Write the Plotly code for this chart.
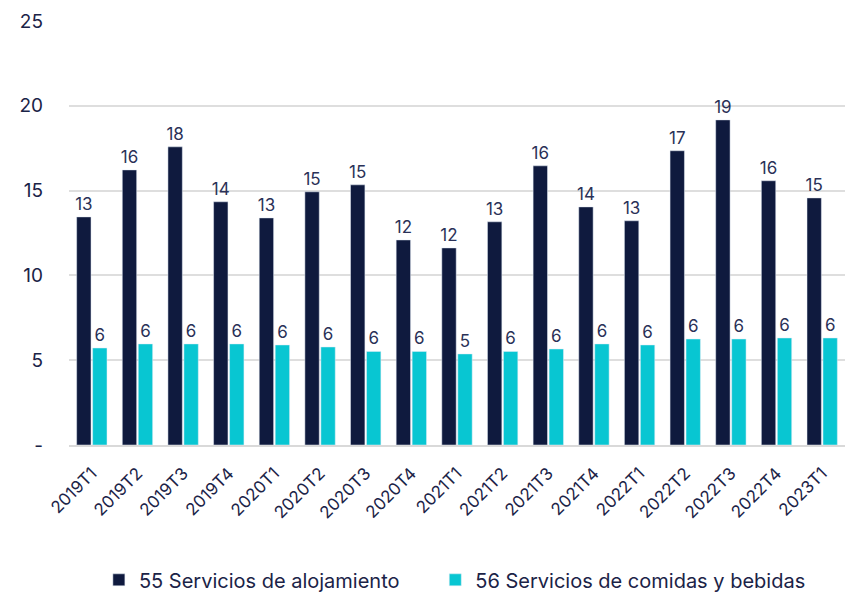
import plotly.graph_objects as go

categories = ["2019T1", "2019T2", "2019T3", "2019T4", "2020T1", "2020T2", "2020T3", "2020T4",
              "2021T1", "2021T2", "2021T3", "2021T4", "2022T1", "2022T2", "2022T3", "2022T4", "2023T1"]
alojamiento = [13.45, 16.22, 17.58, 14.34, 13.39, 14.93, 15.34, 12.09,
               11.62, 13.16, 16.46, 14.04, 13.22, 17.35, 19.17, 15.58, 14.57]
comidas = [5.72, 5.96, 5.96, 5.96, 5.90, 5.78, 5.52, 5.52,
           5.37, 5.52, 5.66, 5.96, 5.90, 6.25, 6.25, 6.31, 6.31]
series_names = ["55 Servicios de alojamiento", "56 Servicios de comidas y bebidas"]
y_tickvals = [0, 5, 10, 15, 20, 25]
y_ticktext = ["-", "5", "10", "15", "20", "25"]

dark = "#0f1a3e"
teal = "#08c6d2"
txt = "#1b2347"
font_family = "Inter, Roboto, sans-serif"

fig = go.Figure()
for vals, name, col, lg in [(alojamiento, series_names[0], dark, "legend"),
                            (comidas, series_names[1], teal, "legend2")]:
    fig.add_trace(go.Bar(x=categories, y=vals, name=name, marker_color=col, legend=lg,
                         texttemplate="%{y:.0f}", textposition="outside", constraintext="none",
                         textfont=dict(size=17, color="#2a3157", family=font_family),
                         cliponaxis=False))

legend_common = dict(orientation="h", y=-0.318, yanchor="middle", xanchor="left",
                     font=dict(size=20, color=txt), bgcolor="rgba(0,0,0,0)")

fig.update_layout(
    width=845, height=594,
    margin=dict(l=69, r=0, t=21, b=149, autoexpand=False),
    paper_bgcolor="white", plot_bgcolor="white",
    barmode="group", bargap=0.3, bargroupgap=0.1,
    font=dict(family=font_family, color=txt),
    showlegend=True,
    legend=dict(x=0.0385, **legend_common),
    legend2=dict(x=0.472, **legend_common),
)
fig.update_xaxes(tickangle=-45, tickfont=dict(size=17, color=txt), showgrid=False,
                 showline=True, linecolor="#d9d9d9", linewidth=1.5, ticks="", automargin=False,
                 ticklabelstandoff=10)
fig.update_yaxes(range=[0, 25], tickvals=y_tickvals, ticktext=y_ticktext,
                 tickfont=dict(size=19, color=txt), showgrid=True, gridcolor="#dedede",
                 gridwidth=1.5, zeroline=False, ticklabelstandoff=25, ticks="", automargin=False)

fig.write_html("out.html", config={"displayModeBar": False},
               post_script="document.body.style.margin='0';document.body.style.overflow='hidden';")
